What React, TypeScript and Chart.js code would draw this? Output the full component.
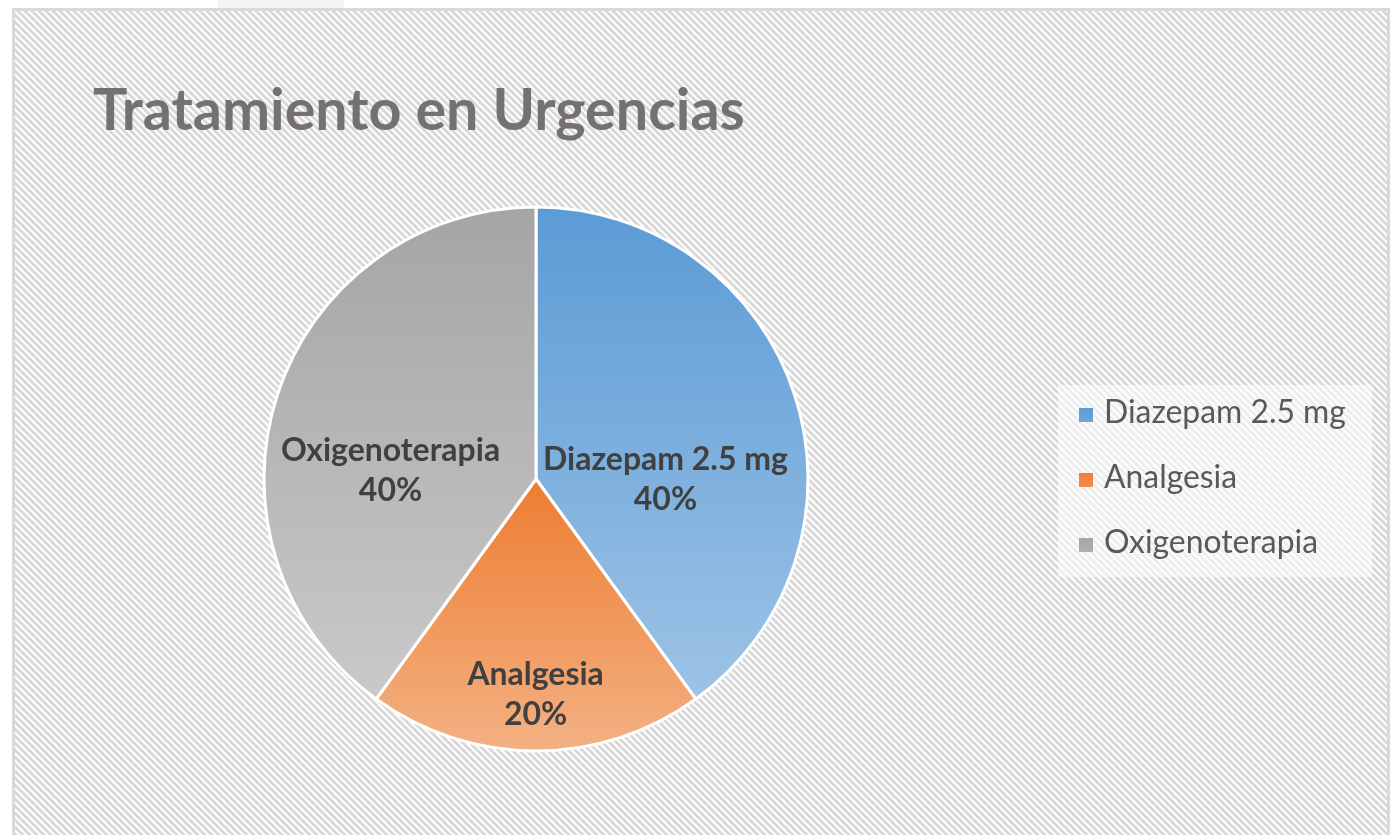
import React, { useEffect, useRef } from 'react';
import { Chart, registerables } from 'chart.js';

Chart.register(...registerables);

const TITLE_TEXT = 'Tratamiento en Urgencias';
const CATEGORIES = ['Diazepam 2.5 mg', 'Analgesia', 'Oxigenoterapia'];
const SHARES = [40, 20, 40];
const GRADIENT_TOP = ['#5B9BD5', '#ED7D31', '#A5A5A5'];
const GRADIENT_BOTTOM = ['#9DC3E6', '#F4B183', '#C9C9C9'];
const LEGEND_SWATCH = ['#6EA6DC', '#F0904F', '#B0B0B0'];

const FONT = 'Lato, "Open Sans", sans-serif';
const W = 1393;
const H = 835;
const SLICE_BORDER = 3;

// where each data label sits relative to its slice: fraction of radius, shift from the mid-angle (degrees)
const LABEL_PLACEMENT = [
  { radius: 0.476, shiftDeg: 17.8 },
  { radius: 0.789, shiftDeg: 0.1 },
  { radius: 0.536, shiftDeg: -14.3 },
];

function fitSize(ctx: CanvasRenderingContext2D, text: string, weight: string, target: number) {
  ctx.font = `${weight} 100px ${FONT}`;
  return (100 * target) / ctx.measureText(text).width;
}

function makeHatch(ctx: CanvasRenderingContext2D) {
  const s = 7;
  const tile = document.createElement('canvas');
  tile.width = s;
  tile.height = s;
  const t = tile.getContext('2d')!;
  t.fillStyle = '#ffffff';
  t.fillRect(0, 0, s, s);
  t.strokeStyle = '#d8d8d8';
  t.lineWidth = 3;
  for (const off of [-s, 0, s]) {
    t.beginPath();
    t.moveTo(off - 1, -1);
    t.lineTo(off + s + 1, s + 1);
    t.stroke();
  }
  return ctx.createPattern(tile, 'repeat')!;
}

function sliceGradient(context: any) {
  const chart = context.chart;
  const i = context.dataIndex;
  const area = chart.chartArea;
  if (!area || i === undefined) return GRADIENT_TOP[i ?? 0];
  const cy = (area.top + area.bottom) / 2;
  const r = (Math.min(area.right - area.left, area.bottom - area.top) - SLICE_BORDER) / 2;
  const total = SHARES.reduce((a, b) => a + b, 0);
  const before = SHARES.slice(0, i).reduce((a, b) => a + b, 0);
  const a0 = -Math.PI / 2 + (before / total) * Math.PI * 2;
  const a1 = a0 + (SHARES[i] / total) * Math.PI * 2;
  const ys = [cy, cy + r * Math.sin(a0), cy + r * Math.sin(a1)];
  const contains = (a: number) => {
    for (let k = -2; k <= 2; k++) {
      const x = a + k * Math.PI * 2;
      if (x >= a0 && x <= a1) return true;
    }
    return false;
  };
  if (contains(-Math.PI / 2)) ys.push(cy - r);
  if (contains(Math.PI / 2)) ys.push(cy + r);
  const g = chart.ctx.createLinearGradient(0, Math.min(...ys), 0, Math.max(...ys));
  g.addColorStop(0, GRADIENT_TOP[i]);
  g.addColorStop(1, GRADIENT_BOTTOM[i]);
  return g;
}

const decorPlugin = {
  id: 'decor',
  beforeDraw(chart: any) {
    const ctx: CanvasRenderingContext2D = chart.ctx;
    ctx.save();
    ctx.fillStyle = '#ffffff';
    ctx.fillRect(0, 0, W, H);
    ctx.fillStyle = '#f4f4f4';
    ctx.fillRect(218, 0, 126, 8);
    ctx.fillStyle = makeHatch(ctx);
    ctx.fillRect(14, 10, 1374, H);
    ctx.strokeStyle = '#d9d9d9';
    ctx.lineWidth = 3;
    ctx.strokeRect(13.5, 9.5, 1375, H + 20);
    ctx.fillStyle = 'rgba(255,255,255,0.55)';
    ctx.fillRect(1058, 385, 314, 192);
    ctx.restore();
  },
  afterDatasetsDraw(chart: any) {
    const ctx: CanvasRenderingContext2D = chart.ctx;
    const meta = chart.getDatasetMeta(0);
    const total = SHARES.reduce((a, b) => a + b, 0);
    const size = fitSize(ctx, CATEGORIES[0], 'bold', 245);
    ctx.save();
    ctx.fillStyle = '#404040';
    ctx.textAlign = 'center';
    ctx.textBaseline = 'alphabetic';
    ctx.font = `bold ${size}px ${FONT}`;
    meta.data.forEach((arc: any, i: number) => {
      const { x, y, startAngle, endAngle, outerRadius } = arc.getProps(
        ['x', 'y', 'startAngle', 'endAngle', 'outerRadius'],
        true
      );
      const p = LABEL_PLACEMENT[i];
      const mid = (startAngle + endAngle) / 2 + (p.shiftDeg * Math.PI) / 180;
      const lx = x + Math.cos(mid) * outerRadius * p.radius;
      const ly = y + Math.sin(mid) * outerRadius * p.radius;
      const pct = Math.round((SHARES[i] / total) * 100) + '%';
      ctx.fillText(CATEGORIES[i], lx, ly - 9);
      ctx.fillText(pct, lx, ly + 31);
    });
    ctx.restore();
  },
  afterDraw(chart: any) {
    const ctx: CanvasRenderingContext2D = chart.ctx;
    ctx.save();
    // title
    const ts = fitSize(ctx, TITLE_TEXT, 'bold', 652);
    ctx.font = `bold ${ts}px ${FONT}`;
    ctx.fillStyle = '#757171';
    ctx.textAlign = 'left';
    ctx.textBaseline = 'alphabetic';
    ctx.fillText(TITLE_TEXT, 93, 130);
    // legend
    const ls = fitSize(ctx, CATEGORIES[0], 'normal', 242);
    ctx.font = `normal ${ls}px ${FONT}`;
    CATEGORIES.forEach((c, i) => {
      const base = 423 + i * 65;
      const g = ctx.createLinearGradient(0, base - 15, 0, base - 1);
      g.addColorStop(0, GRADIENT_TOP[i]);
      g.addColorStop(1, LEGEND_SWATCH[i]);
      ctx.fillStyle = g;
      ctx.fillRect(1079, base - 15, 14, 14);
      ctx.fillStyle = '#595959';
      ctx.fillText(c, 1104, base);
    });
    ctx.restore();
  },
};

export default function App() {
  const ref = useRef<HTMLCanvasElement | null>(null);
  useEffect(() => {
    document.body.style.margin = '0';
    const chart = new Chart(ref.current!, {
      type: 'pie',
      data: {
        labels: CATEGORIES,
        datasets: [
          {
            data: SHARES,
            backgroundColor: sliceGradient as any,
            borderColor: '#ffffff',
            borderWidth: SLICE_BORDER,
            hoverOffset: 0,
          },
        ],
      },
      options: {
        animation: false,
        responsive: true,
        maintainAspectRatio: false,
        events: [],
        layout: { padding: { left: 262.5, right: 583.5, top: 205.5, bottom: 82.5 } },
        plugins: {
          legend: { display: false },
          title: { display: false },
          tooltip: { enabled: false },
        },
      },
      plugins: [decorPlugin],
    });
    return () => chart.destroy();
  }, []);
  return (
    <div style={{ position: 'fixed', left: 0, top: 0, width: W, height: H }}>
      <canvas ref={ref} />
    </div>
  );
}
